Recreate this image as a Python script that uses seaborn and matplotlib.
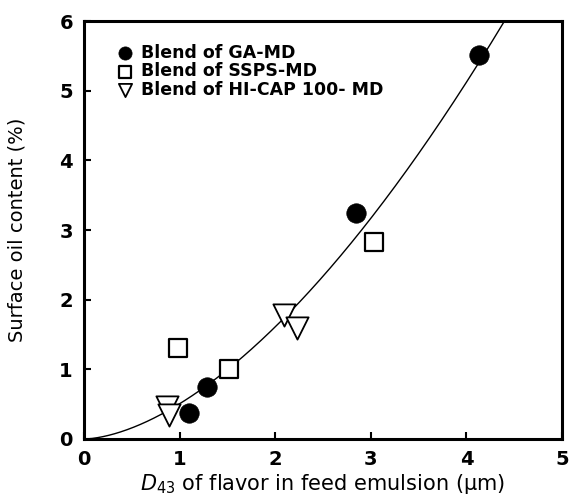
import numpy as np
import matplotlib
matplotlib.use("Agg")
import matplotlib.pyplot as plt
import seaborn as sns

# ---- data ----
ga_x = [1.10, 1.29, 2.84, 4.13]
ga_y = [0.37, 0.75, 3.24, 5.51]
ssps_x = [0.98, 1.52, 3.03]
ssps_y = [1.31, 1.01, 2.83]
hicap_x = [0.87, 0.89, 2.09, 2.23]
hicap_y = [0.46, 0.34, 1.78, 1.59]
series_labels = ["Blend of GA-MD", "Blend of SSPS-MD", "Blend of HI-CAP 100- MD"]
x_ticks = [0, 1, 2, 3, 4, 5]
y_ticks = [0, 1, 2, 3, 4, 5, 6]
x_label = r"$D_{43}$ of flavor in feed emulsion (μm)"
y_label = "Surface oil content (%)"

sns.set_style("ticks")
plt.rcParams["font.family"] = ["DejaVu Sans"]
plt.rcParams["text.color"] = "black"
plt.rcParams["axes.labelcolor"] = "black"
plt.rcParams["xtick.color"] = "black"
plt.rcParams["ytick.color"] = "black"

fig = plt.figure(figsize=(5.73, 4.95), dpi=100)
ax = fig.add_axes([84 / 573, 1 - 439 / 495, 478 / 573, 418 / 495])
ax.set_xlim(0, 5)
ax.set_ylim(0, 6)

# ---- power-law trend line fitted to all points (least squares in linear space) ----
all_x = np.array(ga_x + ssps_x + hicap_x)
all_y = np.array(ga_y + ssps_y + hicap_y)
best = None
for b in np.arange(1.0, 2.5, 0.0005):
    xb = all_x ** b
    a = (all_y * xb).sum() / (xb * xb).sum()
    sse = ((all_y - a * xb) ** 2).sum()
    if best is None or sse < best[0]:
        best = (sse, a, b)
_, fa, fb = best
fit_x = np.linspace(0, 5, 500)
fit_y = fa * fit_x ** fb
sns.lineplot(x=fit_x, y=fit_y, color="black", linewidth=1.0, ax=ax, zorder=2)

# ---- scatter series ----
sns.scatterplot(x=ga_x, y=ga_y, marker="o", s=14 ** 2, color="black",
                edgecolor="black", linewidth=0.5, label=series_labels[0], ax=ax, zorder=3)
sns.scatterplot(x=ssps_x, y=ssps_y, marker="s", s=12.5 ** 2, color="white",
                edgecolor="black", linewidth=1.6, label=series_labels[1], ax=ax, zorder=3)
sns.scatterplot(x=hicap_x, y=hicap_y, marker="v", s=16 ** 2, color="white",
                edgecolor="black", linewidth=1.3, label=series_labels[2], ax=ax, zorder=3)

ax.set_xlim(0, 5)
ax.set_ylim(0, 6)
ax.set_xticks(x_ticks)
ax.set_yticks(y_ticks)
ax.set_xticklabels([str(t) for t in x_ticks])
ax.set_yticklabels([str(t) for t in y_ticks])

for sp in ax.spines.values():
    sp.set_visible(True)
    sp.set_linewidth(2.2)
    sp.set_color("black")
ax.tick_params(axis="both", direction="in", length=5, width=1.5, pad=8,
               labelsize=14, colors="black", top=False, right=False)
for lbl in ax.get_xticklabels() + ax.get_yticklabels():
    lbl.set_fontweight("bold")

ax.set_xlabel(x_label, fontsize=15, color="black")
ax.set_ylabel(y_label, fontsize=14, color="black")
ax.xaxis.set_label_coords(0.5, (439 - 472) / 418)
ax.yaxis.set_label_coords((27 - 84) / 478, 0.5)

handles, labels = ax.get_legend_handles_labels()
leg = ax.legend(handles[:3], labels[:3], loc="upper left", bbox_to_anchor=(0.071, 0.945),
                frameon=False, handlelength=0.8, handletextpad=0.5, labelspacing=0.02,
                borderpad=0, borderaxespad=0, prop=dict(weight="bold", size=12.5))
for t in leg.get_texts():
    t.set_color("black")
for h, sz in zip(leg.legend_handles, [9.5, 9, 9.5]):
    h.set_sizes([sz ** 2])

fig.savefig("out.png", dpi=100)
